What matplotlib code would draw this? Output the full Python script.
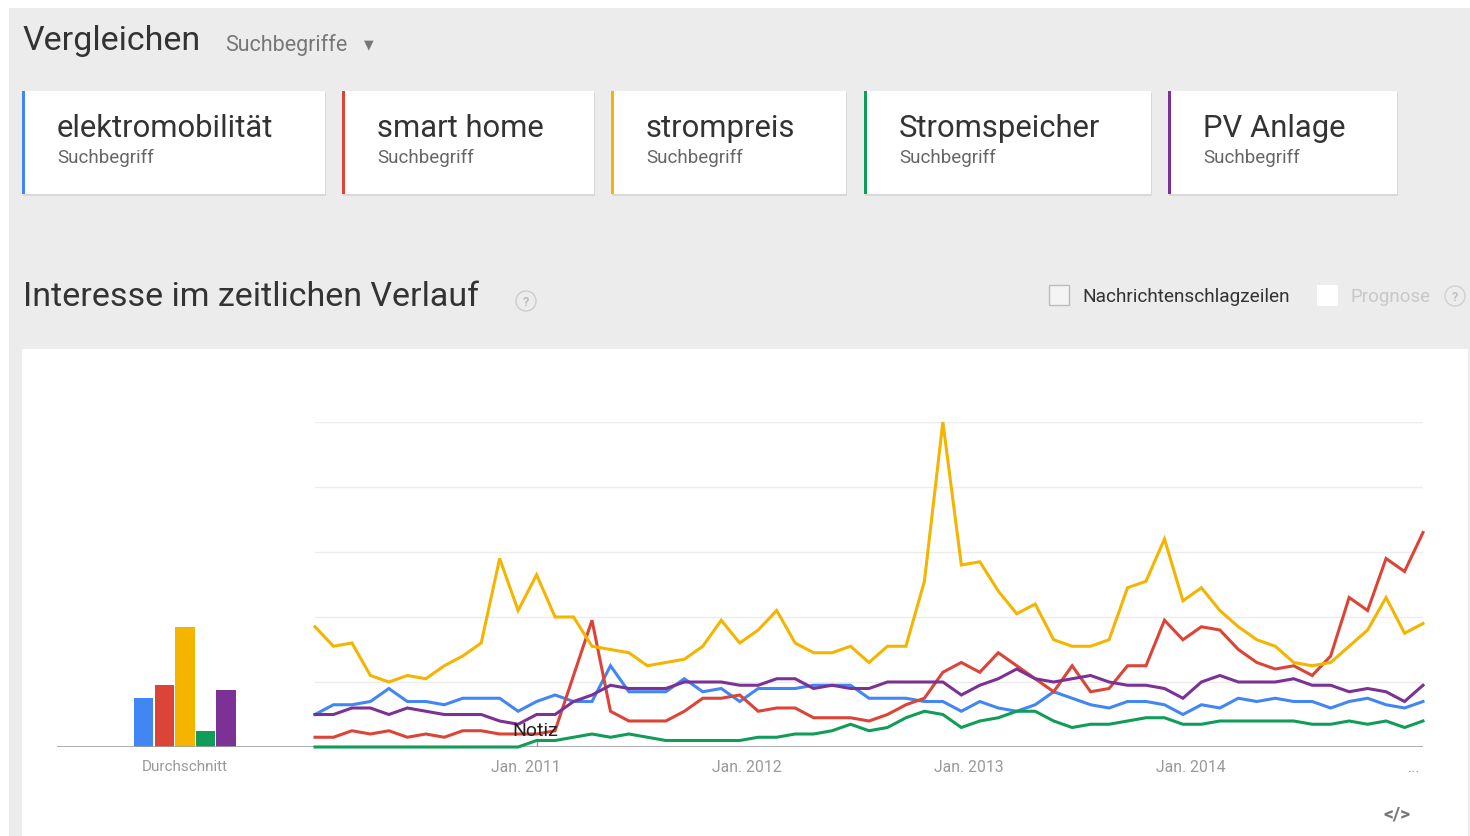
import numpy as np
import matplotlib
matplotlib.use('Agg')
import matplotlib.pyplot as plt
from matplotlib.patches import Rectangle, Circle

plt.rcParams['font.family'] = ['Roboto', 'DejaVu Sans']

# Search terms and colours
terms = ['elektromobilität', 'smart home', 'strompreis', 'Stromspeicher', 'PV Anlage']
colors = ['#4285f4', '#db4437', '#f4b400', '#0f9d58', '#7b3294']

# Monthly interest values, Jan 2010 - Jan 2015
elektromobilitaet = [10, 13, 13, 14, 18, 14, 14, 13, 15, 15,
                     15, 11, 14, 16, 14, 14, 25, 17, 17, 17,
                     21, 17, 18, 14, 18, 18, 18, 19, 19, 19,
                     15, 15, 15, 14, 14, 11, 14, 12, 11, 13,
                     17, 15, 13, 12, 14, 14, 13, 10, 13, 12,
                     15, 14, 15, 14, 14, 12, 14, 15, 13, 12,
                     14]
smart_home = [3, 3, 5, 4, 5, 3, 4, 3, 5, 5,
              4, 4, 4, 5, 22, 39, 11, 8, 8, 8,
              11, 15, 15, 16, 11, 12, 12, 9, 9, 9,
              8, 10, 13, 15, 23, 26, 23, 29, 25, 21,
              17, 25, 17, 18, 25, 25, 39, 33, 37, 36,
              30, 26, 24, 25, 22, 28, 46, 42, 58, 54,
              66]
strompreis = [37, 31, 32, 22, 20, 22, 21, 25, 28, 32,
              58, 42, 53, 40, 40, 31, 30, 29, 25, 26,
              27, 31, 39, 32, 36, 42, 32, 29, 29, 31,
              26, 31, 31, 51, 100, 56, 57, 48, 41, 44,
              33, 31, 31, 33, 49, 51, 64, 45, 49, 42,
              37, 33, 31, 26, 25, 26, 31, 36, 46, 35,
              38]
stromspeicher = [0, 0, 0, 0, 0, 0, 0, 0, 0, 0,
                 0, 0, 2, 2, 3, 4, 3, 4, 3, 2,
                 2, 2, 2, 2, 3, 3, 4, 4, 5, 7,
                 5, 6, 9, 11, 10, 6, 8, 9, 11, 11,
                 8, 6, 7, 7, 8, 9, 9, 7, 7, 8,
                 8, 8, 8, 8, 7, 7, 8, 7, 8, 6,
                 8]
pv_anlage = [10, 10, 12, 12, 10, 12, 11, 10, 10, 10,
             8, 7, 10, 10, 14, 16, 19, 18, 18, 18,
             20, 20, 20, 19, 19, 21, 21, 18, 19, 18,
             18, 20, 20, 20, 20, 16, 19, 21, 24, 21,
             20, 21, 22, 20, 19, 19, 18, 15, 20, 22,
             20, 20, 20, 21, 19, 19, 17, 18, 17, 14,
             19]
series = [elektromobilitaet, smart_home, strompreis, stromspeicher, pv_anlage]

# Averages ("Durchschnitt")
averages = [15, 19, 37, 5, 17.5]

year_labels = ['Jan. 2011', 'Jan. 2012', 'Jan. 2013', 'Jan. 2014']
year_months = [12, 24, 36, 48]

W, H = 1470, 837
fig = plt.figure(figsize=(W / 100, H / 100), dpi=100)
fig.patch.set_facecolor('white')

# Background layer in pixel coordinates
bg = fig.add_axes([0, 0, 1, 1])
bg.set_xlim(0, W)
bg.set_ylim(H, 0)
bg.axis('off')
bg.add_patch(Rectangle((9, 9), W - 9, H - 9, facecolor='#edecec', edgecolor='none'))
bg.add_patch(Rectangle((22, 350), 1446, H - 350, facecolor='white', edgecolor='none'))

bg.text(23, 41, 'Vergleichen', fontsize=24.5, color='#333333', va='center')
bg.text(225, 45, 'Suchbegriffe', fontsize=15.5, color='#777777', va='center')
bg.text(364, 45, '▼', fontsize=9, color='#777777', va='center', family=['DejaVu Sans'])

# Term cards
card_left = [22, 342, 611, 864, 1168]
card_right = [325, 594, 846, 1151, 1397]
for i, term in enumerate(terms):
    x0, x1 = card_left[i], card_right[i]
    bg.add_patch(Rectangle((x0 + 1, 94), x1 - x0, 103, facecolor='#d9d8d8', edgecolor='none'))
    bg.add_patch(Rectangle((x0, 92), x1 - x0, 103, facecolor='white', edgecolor='none'))
    bg.add_patch(Rectangle((x0, 92), 3, 103, facecolor=colors[i], edgecolor='none'))
    bg.text(x0 + 35, 128, term, fontsize=22.3, color='#333333', va='center')
    bg.text(x0 + 35, 158, 'Suchbegriff', fontsize=13.5, color='#666666', va='center')

bg.text(23, 297, 'Interesse im zeitlichen Verlauf', fontsize=24.5, color='#333333', va='center')
bg.add_patch(Circle((526, 302), 10, facecolor='none', edgecolor='#cccccc', lw=1))
bg.text(526, 302, '?', fontsize=9, color='#bbbbbb', ha='center', va='center', fontweight='bold')

bg.add_patch(Rectangle((1049, 286), 20, 20, facecolor='#f4f4f4', edgecolor='#bbbbbb', lw=1))
bg.text(1082, 297, 'Nachrichtenschlagzeilen', fontsize=13.7, color='#333333', va='center')
bg.add_patch(Rectangle((1317, 286), 21, 21, facecolor='white', edgecolor='none'))
bg.text(1351, 297, 'Prognose', fontsize=13.5, color='#c8c8c8', va='center')
bg.add_patch(Circle((1455, 297), 10, facecolor='none', edgecolor='#d0d0d0', lw=1))
bg.text(1455, 297, '?', fontsize=9, color='#c0c0c0', ha='center', va='center', fontweight='bold')

bg.text(1397, 815, '</>', fontsize=14, color='#777777', ha='center', va='center', fontweight='bold')

# Average bars
base_px, top_px = 748, 423
ax_b = fig.add_axes([57 / W, (H - base_px) / H, (315 - 57) / W, (base_px - top_px) / H])
ax_b.bar(np.arange(len(averages)), averages, width=0.93, color=colors)
ax_b.set_xlim(-4.24, 8.34)
ax_b.set_ylim(0, 100)
ax_b.axhline(0, color='#9e9e9e', lw=1.2)
ax_b.set_xticks([2])
ax_b.set_xticklabels(['Durchschnitt'], fontsize=11, color='#999999')
ax_b.tick_params(length=0, pad=9)
ax_b.set_yticks([])
for s in ax_b.spines.values():
    s.set_visible(False)
ax_b.patch.set_alpha(0)

# Lines over time
ax = fig.add_axes([315 / W, (H - base_px) / H, (1423 - 315) / W, (base_px - top_px) / H])
months = np.arange(len(strompreis))
for g in [20, 40, 60, 80, 100]:
    ax.axhline(g, color='#ececec', lw=1, zorder=0)
ax.axhline(0, color='#9e9e9e', lw=1.2, zorder=1)
for vals, c in zip(series, colors):
    ax.plot(months, vals, color=c, lw=2.2, clip_on=False, solid_joinstyle='miter', zorder=3)
ax.set_xlim(0, 60)
ax.set_ylim(0, 100)
ax.set_xticks([m - 0.6 for m in year_months] + [59.5])
ax.set_xticklabels(year_labels + ['...'], fontsize=11.3, color='#999999')
ax.tick_params(length=0, pad=9)
ax.set_yticks([])
for s in ax.spines.values():
    s.set_visible(False)
ax.patch.set_alpha(0)

# Annotation marker
ax.plot([12, 12], [0, 2.5], color='#999999', lw=1, zorder=2)
ax.text(11.9, 5.2, 'Notiz', fontsize=14, color='#222222', ha='center', va='center', zorder=5)

fig.savefig('out.png', dpi=100)
